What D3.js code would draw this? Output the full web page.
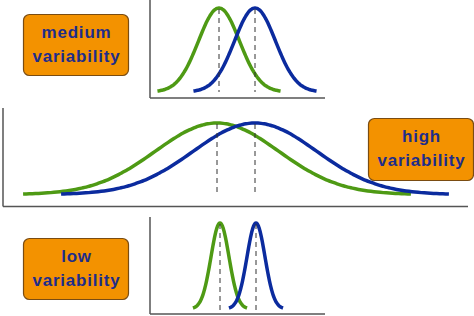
<!DOCTYPE html>
<html>
<head>
  <title>Variability</title>
  <script src="https://cdn.jsdelivr.net/npm/d3@7"></script>
  <style>
    body { margin: 0; background: #fff; }
  </style>
</head>
<body>
  <svg width="474" height="316"></svg>
</body>
<script>

// two groups per panel, means in units (green = 0, blue = 1)
const groups = ['green', 'blue'];
const means = [0, 1];

// spread of each panel, in the same units
const panels = ['medium', 'high', 'low'];
const sds = [0.57, 1.62, 0.25];
const spans = [3.0, 3.15, 3.0];   // how many sd the curve is drawn out to
const labels = [['medium', 'variability'], ['high', 'variability'], ['low', 'variability']];

const colors = { green: '#4e9a14', blue: '#0b2b9e' };

// layout of each panel (pixels)
const layout = [
  { x0: 219, x1: 255, base: 92,  peak: 8,   axisX: 150, axisTop: 0,   axisY: 98,  axisRight: 325, dashTo: 92,
    box: { x: 23, y: 14, w: 105, h: 61 } },
  { x0: 217, x1: 255, base: 194.5, peak: 123, axisX: 3, axisTop: 108, axisY: 206.5, axisRight: 468, dashTo: 195,
    box: { x: 368, y: 118, w: 105, h: 62 } },
  { x0: 220, x1: 256, base: 309, peak: 223, axisX: 150, axisTop: 217, axisY: 314, axisRight: 325, dashTo: 313,
    box: { x: 23, y: 238, w: 105, h: 61 } }
];

let svg = d3.select('svg');

let gauss = (x, m, s) => Math.exp(-((x - m) * (x - m)) / (2 * s * s));

panels.forEach((name, i) => {
  let L = layout[i];
  let sd = sds[i];
  let g = svg.append('g').attr('class', 'panel-' + name);

  let x = d3.scaleLinear().domain([0, 1]).range([L.x0, L.x1]);
  let y = d3.scaleLinear().domain([0, 1]).range([L.base, L.peak]);

  // axes as plain lines
  g.append('line')
    .attr('x1', L.axisX).attr('x2', L.axisX)
    .attr('y1', L.axisTop).attr('y2', L.axisY)
    .style('stroke', '#555').style('stroke-width', 1.5);
  g.append('line')
    .attr('x1', L.axisX).attr('x2', L.axisRight)
    .attr('y1', L.axisY).attr('y2', L.axisY)
    .style('stroke', '#555').style('stroke-width', 1.5);

  let line = d3.line().x(d => x(d[0])).y(d => y(d[1])).curve(d3.curveBasis);

  groups.forEach((grp, k) => {
    let m = means[k];
    let xs = d3.range(m - spans[i] * sd, m + spans[i] * sd + 1e-9, sd / 20);
    let pts = xs.map(v => [v, gauss(v, m, sd)]);

    g.append('path')
      .datum(pts)
      .attr('d', line)
      .style('fill', 'none')
      .style('stroke', colors[grp])
      .style('stroke-width', 3.5)
      .style('stroke-linecap', 'butt');
  });

  // dashed mean markers
  groups.forEach((grp, k) => {
    g.append('line')
      .attr('x1', x(means[k])).attr('x2', x(means[k]))
      .attr('y1', y(1) + 1).attr('y2', L.dashTo)
      .style('stroke', '#333')
      .style('stroke-width', 1)
      .style('stroke-dasharray', '5,4');
  });

  // label box
  let b = L.box;
  g.append('rect')
    .attr('x', b.x + 0.5).attr('y', b.y + 0.5)
    .attr('width', b.w).attr('height', b.h)
    .attr('rx', 6).attr('ry', 6)
    .style('fill', '#f39200')
    .style('stroke', '#7a4c12')
    .style('stroke-width', 1.2);

  labels[i].forEach((t, j) => {
    g.append('text')
      .attr('x', b.x + b.w / 2 + 1)
      .attr('y', b.y + 24 + j * 24)
      .attr('text-anchor', 'middle')
      .style('font-family', 'Liberation Sans, Arial, sans-serif')
      .style('font-weight', 'bold')
      .style('font-size', '17px')
      .style('letter-spacing', '0.8px')
      .style('fill', '#1e2d8a')
      .text(t);
  });
});

</script>
</html>
